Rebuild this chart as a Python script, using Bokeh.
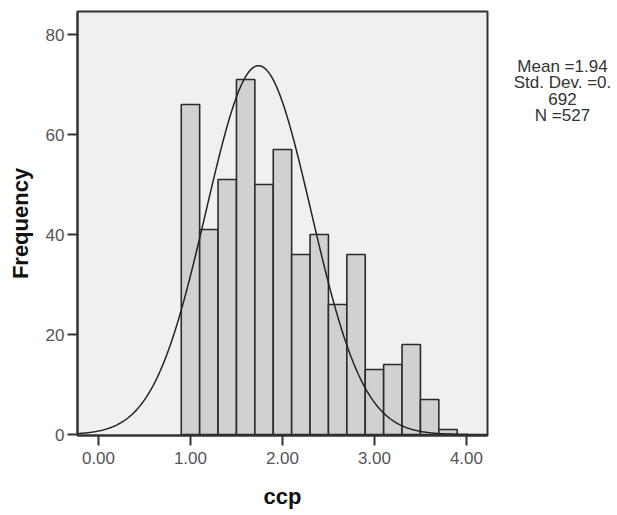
import numpy as np
from bokeh.plotting import figure
from bokeh.layouts import row
from bokeh.models import Range1d, FixedTicker, ColumnDataSource
from bokeh.core.properties import value
from bokeh.embed import file_html
from bokeh.resources import INLINE

# ---- data ----
bin_left = [0.9, 1.1, 1.3, 1.5, 1.7, 1.9, 2.1, 2.3, 2.5, 2.7, 2.9, 3.1, 3.3, 3.5, 3.7]
bin_width = 0.2
counts = [66, 41, 51, 71, 50, 57, 36, 40, 26, 36, 13, 14, 18, 7, 1]
x_ticks = [0, 1, 2, 3, 4]
x_tick_labels = ["0.00", "1.00", "2.00", "3.00", "4.00"]
y_ticks = [0, 20, 40, 60, 80]
y_tick_labels = ["0", "20", "40", "60", "80"]
stats_lines = ["Mean =1.94", "Std. Dev. =0.", "692", "N =527"]
# normal curve as drawn in the picture
curve_mean = 1.74
curve_sd = 0.570
n_total = 527

FONT = "Liberation Sans"
TOP, BOTTOM = 11, 80  # shared borders so both panels' frames line up

# ---- histogram panel ----
p = figure(width=490, height=515, output_backend="svg", toolbar_location=None,
           x_range=Range1d(-0.228, 4.229), y_range=Range1d(-0.2, 84.6),
           min_border_left=77, min_border_right=3, min_border_top=TOP, min_border_bottom=BOTTOM)
p.background_fill_color = "#F0F0F0"
p.border_fill_color = "white"
p.outline_line_color = "#333333"
p.outline_line_width = 2
p.grid.visible = False

src = ColumnDataSource(dict(
    left=bin_left,
    right=[b + bin_width for b in bin_left],
    top=counts,
    bottom=[0] * len(counts),
))
p.quad(left="left", right="right", top="top", bottom="bottom", source=src,
       fill_color="#D1D1D1", line_color="#2b2b2b", line_width=1.6)

xs = np.linspace(-0.228, 4.229, 400)
ys = n_total * bin_width / (curve_sd * np.sqrt(2 * np.pi)) * np.exp(-(xs - curve_mean) ** 2 / (2 * curve_sd ** 2))
p.line(xs, ys, line_color="#222222", line_width=1.5)

p.xaxis.ticker = FixedTicker(ticks=x_ticks)
p.xaxis.major_label_overrides = {t: l for t, l in zip(x_ticks, x_tick_labels)}
p.yaxis.ticker = FixedTicker(ticks=y_ticks)
p.yaxis.major_label_overrides = {t: l for t, l in zip(y_ticks, y_tick_labels)}

for ax in (p.xaxis[0], p.yaxis[0]):
    ax.axis_line_color = "#333333"
    ax.axis_line_width = 2
    ax.major_tick_line_color = "#333333"
    ax.major_tick_line_width = 2
    ax.major_tick_in = 0
    ax.major_tick_out = 10
    ax.minor_tick_line_color = None
    ax.major_label_text_font = FONT
    ax.major_label_text_font_size = "17px"
    ax.major_label_text_color = "#555555"
    ax.axis_label_text_font = FONT
    ax.axis_label_text_font_size = "22px"
    ax.axis_label_text_font_style = "bold"
    ax.axis_label_text_color = "#111111"

p.xaxis.axis_label = "ccp"
p.yaxis.axis_label = "Frequency"
p.xaxis.major_label_standoff = 6
p.yaxis.major_label_standoff = 3
p.xaxis.axis_label_standoff = 17
p.yaxis.axis_label_standoff = 10

# ---- statistics text panel (pixel coordinates, y measured from top of canvas) ----
s = figure(width=127, height=515, output_backend="svg", toolbar_location=None,
           x_range=Range1d(0, 127), y_range=Range1d(515 - BOTTOM, TOP),
           min_border_left=0, min_border_right=0, min_border_top=TOP, min_border_bottom=BOTTOM)
s.axis.visible = False
s.grid.visible = False
s.outline_line_color = None
s.background_fill_color = "white"
s.border_fill_color = "white"
stats_src = ColumnDataSource(dict(x=[72] * len(stats_lines), y=[65.5, 82, 98.5, 115], text=stats_lines))
s.text(x="x", y="y", text="text", source=stats_src, text_align="center", text_baseline="alphabetic",
       text_font=value(FONT), text_font_size="17px", text_color="#333333")

layout = row(p, s, spacing=0)
open("out.html", "w").write(file_html(layout, INLINE))
